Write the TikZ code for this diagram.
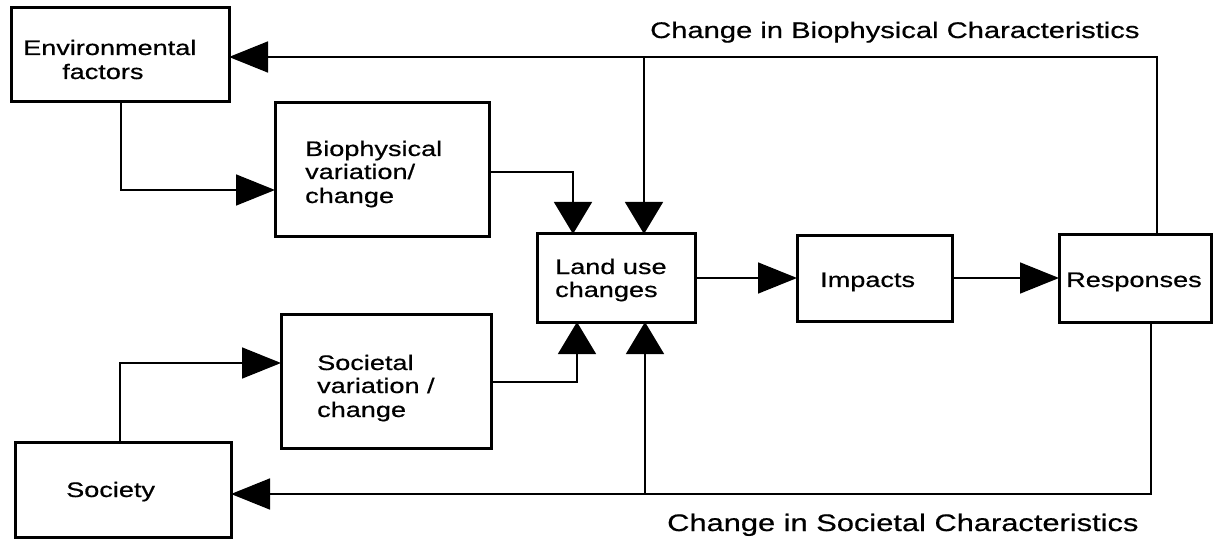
\documentclass[tikz,border=0pt]{standalone}
\usepackage{fontspec}
\setmainfont{Liberation Sans}[FakeStretch=1.29,FakeBold=0.6]
\usetikzlibrary{arrows.meta}
\begin{document}
\begin{tikzpicture}[x=1pt,y=-1pt,
  box/.style={draw, line width=3pt, inner sep=0pt, outer sep=0pt},
  conn/.style={line width=1.6pt},
  htip/.style={-{Triangle[length=39pt,width=31pt]}},
  vtip/.style={-{Triangle[length=32pt,width=38pt]}},
  txt/.style={inner sep=0pt, anchor=base west, font=\fontsize{21}{24}\selectfont},
  lbl/.style={inner sep=0pt, anchor=base west}]
\useasboundingbox[fill=white] (0,0) rectangle (1221,540);

% boxes
\node[box, minimum width=218pt, minimum height=94pt] (env) at (120,55) {};
\node[box, minimum width=214pt, minimum height=134pt] (bio) at (382,170) {};
\node[box, minimum width=158pt, minimum height=88pt] (land) at (616,278) {};
\node[box, minimum width=155pt, minimum height=85pt] (imp) at (874.5,278.5) {};
\node[box, minimum width=152pt, minimum height=87pt] (resp) at (1135,278.5) {};
\node[box, minimum width=210pt, minimum height=134pt] (socv) at (386,381) {};
\node[box, minimum width=216pt, minimum height=95pt] (soc) at (123,489.5) {};

% texts
\node[txt] (envt1) at (23,55) {Environmental};
\node[txt] (envt2) at (62,79) {factors};
\node[txt] (biot1) at (305,156) {Biophysical};
\node[txt] (biot2) at (305,179) {variation/};
\node[txt] (biot3) at (305,203) {change};
\node[txt] (landt1) at (555,274) {Land use};
\node[txt] (landt2) at (555,297) {changes};
\node[txt] (impt) at (820,287) {Impacts};
\node[txt] (respt) at (1066,287) {Responses};
\node[txt] (socvt1) at (317,370) {Societal};
\node[txt] (socvt2) at (317,393) {variation /};
\node[txt] (socvt3) at (317,417) {change};
\node[txt] (soct) at (66,497) {Society};

% labels
\node[lbl, font=\fontsize{22.6}{26}\selectfont] (lbltop) at (650,38) {Change in Biophysical Characteristics};
\node[lbl, font=\fontsize{23.9}{27}\selectfont] (lblbot) at (667,531) {Change in Societal Characteristics};

% bend coordinates
\coordinate (tr) at (1157,57);
\coordinate (tm) at (644,57);
\coordinate (eb) at (121,190);
\coordinate (bl) at (573,172);
\coordinate (ss) at (120,363);
\coordinate (sl) at (577,382);
\coordinate (br) at (1151,494);
\coordinate (bm) at (645,494);

% connectors
\draw[conn, htip] (resp.north -| tr) -- (tr) -- (env.east |- tr);
\draw[conn, vtip] (tm) -- (land.north -| tm);
\draw[conn, htip] (env.south -| eb) |- (bio.west |- eb);
\draw[conn, vtip] (bio.east |- bl) -| (land.north -| bl);
\draw[conn, htip] (land.east) -- (imp.west |- land.east);
\draw[conn, htip] (imp.east |- land.east) -- (resp.west |- land.east);
\draw[conn, htip] (soc.north -| ss) |- (socv.west |- ss);
\draw[conn, vtip] (socv.east |- sl) -| (land.south -| sl);
\draw[conn, htip] (resp.south -| br) |- (soc.east |- br);
\draw[conn, vtip] (bm) -- (land.south -| bm);
\end{tikzpicture}
\end{document}
